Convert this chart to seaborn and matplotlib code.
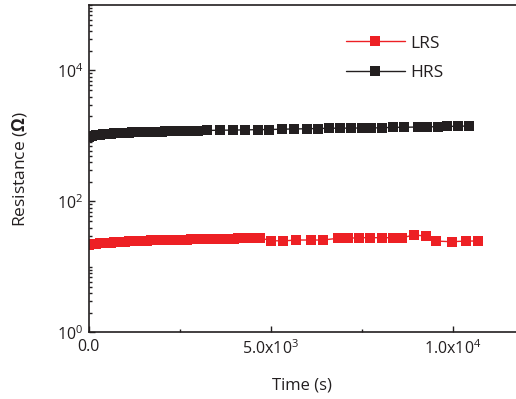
import numpy as np
import pandas as pd
import seaborn as sns
import matplotlib
matplotlib.use("Agg")
import matplotlib.pyplot as plt
from matplotlib.ticker import FixedLocator, FixedFormatter, LogLocator, NullFormatter

# HRS data (time in s, resistance in ohm)
hrs_time = [0, 100, 200, 300, 400, 500, 600, 700, 800, 900, 1000, 1100, 1200, 1300,
            1400, 1500, 1600, 1700, 1800, 1900, 2000, 2100, 2200, 2300, 2400, 2500,
            2600, 2700, 2800, 2900, 3000,
            3250, 3600, 3950, 4300, 4650, 4950, 5300, 5650, 6000, 6300, 6600, 6900,
            7200, 7500, 7750, 8050, 8350, 8650, 9050, 9300, 9600, 9850, 10150, 10450]
hrs_res = [960, 1000, 1025, 1045, 1060, 1072, 1083, 1093, 1102, 1110, 1118, 1125,
           1131, 1137, 1142, 1147, 1152, 1157, 1161, 1165, 1169, 1173, 1177, 1181,
           1185, 1189, 1193, 1196, 1199, 1202, 1205,
           1215, 1225, 1230, 1240, 1250, 1255, 1270, 1280, 1290, 1300, 1310, 1320,
           1315, 1330, 1320, 1340, 1350, 1360, 1370, 1380, 1385, 1400, 1410, 1420]

# LRS data
lrs_time = [0, 100, 200, 300, 400, 500, 600, 700, 800, 900, 1000, 1100, 1200, 1300,
            1400, 1500, 1600, 1700, 1800, 1900, 2000, 2100, 2200, 2300, 2400, 2500,
            2600, 2700, 2800, 2900, 3000, 3100, 3200, 3300, 3400, 3500, 3600, 3700,
            3800, 3900, 4000, 4100, 4200, 4300, 4400, 4500, 4600, 4700,
            5000, 5350, 5690, 6100, 6430, 6840, 7110, 7420, 7720, 8050, 8350, 8620,
            8930, 9260, 9530, 9970, 10360, 10690]
lrs_res = [22.0, 22.4, 22.7, 23.0, 23.2, 23.4, 23.6, 23.8, 24.0, 24.2, 24.4, 24.6,
           24.8, 25.0, 25.1, 25.2, 25.3, 25.4, 25.5, 25.6, 25.7, 25.8, 25.8, 25.9,
           25.9, 26.0, 26.1, 26.2, 26.3, 26.3, 26.4, 26.4, 26.5, 26.6, 26.6, 26.7,
           26.8, 26.9, 27.0, 27.1, 27.2, 27.3, 27.4, 27.5, 27.6, 27.7, 27.8, 27.9,
           25.2, 25.0, 25.8, 25.8, 25.8, 27.4, 27.4, 28.0, 28.0, 28.0, 28.0, 28.0,
           30.8, 29.7, 24.9, 24.3, 24.9, 24.9]

red = "#ed2024"
black = "#231f20"

sns.set_style("ticks")
plt.rcParams['font.family'] = ['Open Sans', 'DejaVu Sans']
plt.rcParams['mathtext.fontset'] = 'custom'
plt.rcParams['mathtext.rm'] = 'Open Sans'
plt.rcParams['mathtext.bf'] = 'Open Sans:bold'
plt.rcParams['mathtext.default'] = 'regular'

fig = plt.figure(figsize=(5.16, 3.99), dpi=100)
ax = fig.add_axes([0.172, 0.1667, 0.828, 0.8208])

lrs = pd.DataFrame({"t": lrs_time, "R": lrs_res})
hrs = pd.DataFrame({"t": hrs_time, "R": hrs_res})

sns.lineplot(data=lrs, x="t", y="R", ax=ax, color=red, marker="s", markersize=7.2,
             markeredgewidth=0, linewidth=1.0, label="LRS")
sns.lineplot(data=hrs, x="t", y="R", ax=ax, color=black, marker="s", markersize=7.2,
             markeredgewidth=0, linewidth=1.0, label="HRS")

ax.set_yscale("log")
ax.set_ylim(1, 1e5)
ax.set_xlim(0, 11740)

ax.yaxis.set_major_locator(FixedLocator([1, 100, 1e4]))
ax.yaxis.set_major_formatter(FixedFormatter([r'$10^0$', r'$10^2$', r'$10^4$']))
ax.yaxis.set_minor_locator(LogLocator(base=10, subs=np.arange(1, 10), numticks=20))
ax.yaxis.set_minor_formatter(NullFormatter())

ax.xaxis.set_major_locator(FixedLocator([0, 5000, 10000]))
ax.xaxis.set_major_formatter(FixedFormatter(['0.0', r'5.0x10$^3$', r'1.0x10$^4$']))
ax.xaxis.set_minor_locator(FixedLocator([2500, 7500]))

ax.tick_params(which="both", direction="in", colors=black, labelsize=11.5, width=1.0)
ax.tick_params(which="major", length=4.5, pad=4)
ax.tick_params(which="minor", length=2.2)
ax.tick_params(axis="x", pad=5)

for side in ["left", "bottom", "top"]:
    ax.spines[side].set_color(black)
    ax.spines[side].set_linewidth(1.2)
ax.spines["right"].set_visible(False)

ax.set_xlabel("Time (s)", fontsize=12, color=black, labelpad=14)
ax.set_ylabel(r"Resistance ($\mathbf{\Omega}$)", fontsize=12.5, color=black, labelpad=20)

leg = ax.legend(loc="upper left", bbox_to_anchor=(0.565, 0.955), frameon=False,
                fontsize=12.5, handlelength=3.4, handletextpad=0.3, labelspacing=0.75,
                numpoints=1)
for t in leg.get_texts():
    t.set_color(black)

fig.savefig("out.png", dpi=100)
